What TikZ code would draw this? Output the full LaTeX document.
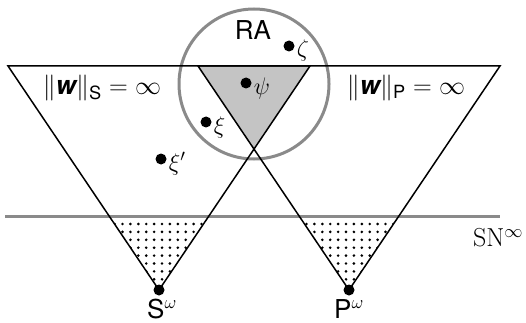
\RequirePackage{fix-cm}
\documentclass[tikz,border=0pt]{standalone}
\usepackage{amsmath}
\usepackage{fontspec}
\setsansfont{TeX Gyre Heros}
\definecolor{circgray}{HTML}{8A8A8A}
\definecolor{shadegray}{HTML}{C4C4C4}
\begin{document}
\begin{tikzpicture}[x=1pt,y=-1pt,
  edge/.style={draw=black,line width=1.5pt,line join=miter},
  dotnode/.style={circle,fill=black,inner sep=0pt,minimum size=11pt},
  lbl/.style={font=\fontsize{26}{30}\selectfont,inner sep=0pt},
  glbl/.style={font=\fontsize{24}{28}\selectfont,inner sep=0pt,anchor=west}]
\useasboundingbox (0,0) rectangle (526,323);
% vertices
\coordinate (L1) at (8,66);
\coordinate (L2) at (310,66);
\coordinate (S) at (159,290);
\coordinate (R1) at (198,66);
\coordinate (R2) at (500,66);
\coordinate (P) at (349,290);
\coordinate (X) at (intersection of L2--S and R1--P);
\coordinate (G1) at (5,216);
\coordinate (G2) at (500,216);
% shaded intersection
\fill[shadegray] (R1) -- (L2) -- (X) -- cycle;
% dotted regions
\begin{scope}
  \clip (0,219) rectangle (526,323);
  \clip (L1) -- (L2) -- (S) -- cycle;
  \foreach \i in {-6,...,6} \foreach \j in {0,...,8}
    \fill ({162+7.9*\i},{224+7.9*\j}) circle (1.45pt);
\end{scope}
\begin{scope}
  \clip (0,219) rectangle (526,323);
  \clip (R1) -- (R2) -- (P) -- cycle;
  \foreach \i in {-6,...,6} \foreach \j in {0,...,8}
    \fill ({346+7.9*\i},{224+7.9*\j}) circle (1.45pt);
\end{scope}
% grey line and circle
\draw[circgray,line width=3pt] (G1) -- (G2);
\node[circle,draw=circgray,line width=3pt,minimum size=150pt,inner sep=0pt] (RAc) at (254,84) {};
% triangles
\draw[edge] (L1) -- (L2) -- (S) -- cycle;
\draw[edge] (R1) -- (R2) -- (P) -- cycle;
% labels
\node[lbl] (RA) at (253,30) {\sffamily RA};
\node[lbl] (nS) at (102,88) {$\|\textsf{\bfseries\itshape w}\|_{\textsf{S}}=\infty$};
\node[lbl] (nP) at (406,88) {$\|\textsf{\bfseries\itshape w}\|_{\textsf{P}}=\infty$};
\node[lbl] (SN) at (498,238) {SN$^{\infty}$};
% dots
\node[dotnode] (zeta) at (289,46) {};
\node[glbl] at ([xshift=2pt,yshift=-5pt]zeta.east) {$\zeta$};
\node[dotnode] (psi) at (246,83) {};
\node[glbl] at ([xshift=2pt,yshift=-6pt]psi.east) {$\psi$};
\node[dotnode] (xi) at (206,122) {};
\node[glbl] at ([xshift=2pt,yshift=-5pt]xi.east) {$\xi$};
\node[dotnode] (xip) at (161,159) {};
\node[glbl] at ([xshift=2pt,yshift=-5pt]xip.east) {$\xi'$};
\node[dotnode] (Sw) at (S) {};
\node[dotnode] (Pw) at (P) {};
\node[lbl,anchor=base] at (162,318) {\sffamily S$^{\omega}$};
\node[lbl,anchor=base] at (349,318) {\sffamily P$^{\omega}$};
\end{tikzpicture}
\end{document}
